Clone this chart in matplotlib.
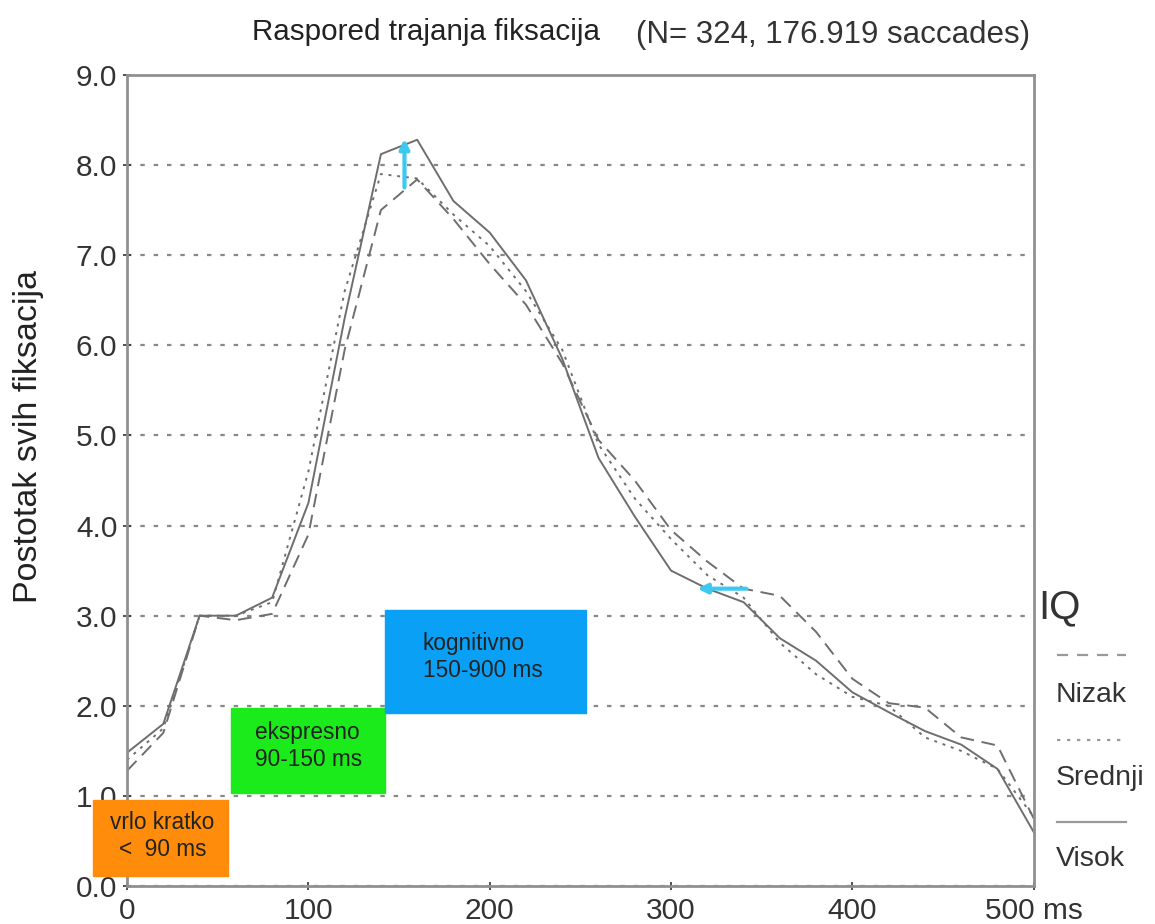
import matplotlib.pyplot as plt
from matplotlib.lines import Line2D
from matplotlib.patches import Rectangle

plt.rcParams['font.family'] = ['Liberation Sans', 'DejaVu Sans']

# data (percent of all fixations per duration bin)
ms = [0, 20, 40, 60, 80, 100, 120, 140, 160, 180, 200, 220, 240,
      260, 280, 300, 320, 340, 360, 380, 400, 420, 440, 460, 480, 500]
nizak = [1.28, 1.7, 3.0, 2.95, 3.02, 3.9, 5.95, 7.5, 7.84, 7.4, 6.9, 6.45, 5.8,
         4.95, 4.5, 3.95, 3.6, 3.3, 3.22, 2.82, 2.3, 2.03, 1.98, 1.65, 1.56, 0.75]
srednji = [1.4, 1.75, 3.0, 3.0, 3.15, 4.6, 6.6, 7.9, 7.85, 7.45, 7.1, 6.6, 5.95,
           4.9, 4.3, 3.85, 3.45, 3.2, 2.7, 2.35, 2.1, 2.0, 1.65, 1.5, 1.3, 0.77]
visok = [1.48, 1.8, 3.0, 3.0, 3.2, 4.25, 6.3, 8.12, 8.28, 7.6, 7.25, 6.72, 5.85,
         4.75, 4.1, 3.5, 3.3, 3.15, 2.75, 2.5, 2.15, 1.93, 1.72, 1.57, 1.3, 0.6]

xticks = [0, 100, 200, 300, 400, 500]
xtick_labels = ['0', '100', '200', '300', '400', '500 ms']
yticks = [0, 1, 2, 3, 4, 5, 6, 7, 8, 9]

# category boxes: (x0, x1, y0, y1, colour, text)
boxes = [
    (-18.8, 55.9, 0.11, 0.96, '#FF8C0A', 'vrlo kratko\n<  90 ms'),
    (57.5, 142.0, 1.03, 1.98, '#1BEA1B', 'ekspresno\n90-150 ms'),
    (142.0, 253.0, 1.92, 3.06, '#0AA0F5', 'kognitivno\n150-900 ms'),
]

fig = plt.figure(figsize=(11.55, 9.24), dpi=100)
ax = fig.add_axes([0.110, 0.041, 0.785, 0.878])

grey = '#6e6e6e'
ax.plot(ms, nizak, color=grey, lw=1.4, ls=(0, (7, 4)))
ax.plot(ms, srednji, color=grey, lw=1.4, ls=(0, (1.5, 3)))
ax.plot(ms, visok, color=grey, lw=1.4, ls='-')

ax.set_xlim(0, 500)
ax.set_ylim(0, 9)
ax.set_xticks(xticks)
ax.set_xticklabels(xtick_labels)
ax.set_yticks(yticks)
ax.set_yticklabels([f'{v:.1f}' for v in yticks])
ax.tick_params(labelsize=21.5, colors='#333333', length=6, width=1.2,
               direction='inout', pad=4)
ax.tick_params(axis='x', pad=5)
for s in ax.spines.values():
    s.set_color('#909090')
    s.set_linewidth(2)
ax.grid(axis='y', color='#888888', ls=(0, (2, 4)), lw=1.6)
ax.set_ylabel('Postotak svih fiksacija', fontsize=24.5, color='#222222')
ax.yaxis.set_label_coords(-0.092, 0.554)

for x0, x1, y0, y1, c, t in boxes:
    ax.add_patch(Rectangle((x0, y0), x1 - x0, y1 - y0, color=c, clip_on=False, zorder=3))
    if x0 < 0:
        ax.text((x0 + x1) / 2 + 1, (y0 + y1) / 2 + 0.02, t, ha='center', va='center',
                fontsize=16.3, color='#222222', zorder=4, clip_on=False,
                linespacing=1.25)
    else:
        xt = x0 + 0.19 * (x1 - x0) if x0 > 100 else x0 + 13
        ax.text(xt, (y0 + y1) / 2 + 0.05, t, ha='left', va='center',
                fontsize=16.3, color='#222222', zorder=4, linespacing=1.25)

# cyan arrows
cyan = '#3CC8F0'
ax.annotate('', xy=(153, 8.32), xytext=(153, 7.72),
            arrowprops=dict(arrowstyle='-|>', color=cyan, lw=3, mutation_scale=14))
ax.annotate('', xy=(313, 3.3), xytext=(343, 3.3),
            arrowprops=dict(arrowstyle='-|>', color=cyan, lw=3, mutation_scale=14))

# title
fig.text(0.218, 0.965, 'Raspored trajanja fiksacija', fontsize=21.3, color='#222222',
         va='center')
fig.text(0.551, 0.962, '(N= 324, 176.919 saccades)', fontsize=22.5, color='#333333',
         va='center')

# legend at right
fig.text(0.899, 0.343, 'IQ', fontsize=29, color='#333333', va='center')
legend_items = [((0, (5, 4)), 'Nizak', 0.291, 0.248),
                ((0, (1.5, 3)), 'Srednji', 0.199, 0.158),
                ('-', 'Visok', 0.110, 0.070)]
for ls, name, yl, yt in legend_items:
    fig.add_artist(Line2D([0.915, 0.975], [yl, yl], color='#999999', lw=1.6, ls=ls))
    fig.text(0.914, yt, name, fontsize=20.5, color='#333333', va='center')

fig.savefig('out.png', dpi=100)
